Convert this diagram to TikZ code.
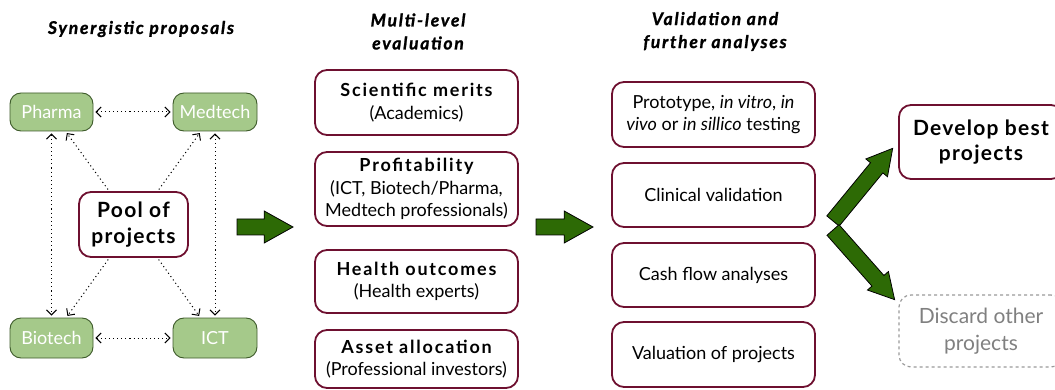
\documentclass[tikz,border=0pt]{standalone}
\usepackage{fontspec}
\setmainfont{Lato}
\newfontfamily\headfont[LetterSpace=10,FakeBold=1.2]{Lato}
\newfontfamily\bfam[LetterSpace=10]{Lato}
\newfontfamily\bigfam[LetterSpace=6]{Lato}
\usetikzlibrary{arrows.meta,calc}
\definecolor{maroon}{HTML}{6E1030}
\definecolor{lgreen}{HTML}{A5C98A}
\definecolor{dgreen}{HTML}{3D5A2A}
\definecolor{agreen}{HTML}{2D6A05}
\definecolor{dgray}{HTML}{999999}
\newcommand\bt[1]{{\bfam\bfseries #1}}
\tikzset{
  sect/.style={draw=dgreen,line width=0.9pt,fill=lgreen,rounded corners=11pt,text=white,font=\fontsize{18}{20}\selectfont,inner sep=0pt},
  mbox/.style={draw=maroon,line width=1.8pt,rounded corners=12pt,fill=white,align=center,inner sep=0pt,font=\fontsize{18}{22.5}\selectfont},
  bigbox/.style={mbox,font=\bigfam\fontsize{21}{25.5}\selectfont\bfseries},
  dbox/.style={draw=dgray,dashed,line width=1.2pt,rounded corners=12pt,align=center,inner sep=0pt,text=gray,font=\fontsize{21}{27}\selectfont},
  head/.style={align=center,font=\headfont\fontsize{17.5}{23}\selectfont\bfseries\itshape},
  dots/.style={dash pattern=on 1.1pt off 3pt,line width=1pt,-{Straight Barb[length=5pt,width=10pt]},shorten >=2pt,shorten <=2pt},
  ddots/.style={dots,{Straight Barb[length=5pt,width=10pt]}-{Straight Barb[length=5pt,width=10pt]}},
}
\newcommand\garrow[5]{% x y angle length headhalf
  \begin{scope}[shift={(#1,#2)},rotate=#3]
    \fill[agreen,draw=black,line width=0.8pt]
      (0,-8) -- ({#4-#5*1.8},-8) -- ({#4-#5*1.8},-#5) -- (#4,0) -- ({#4-#5*1.8},#5) -- ({#4-#5*1.8},8) -- (0,8) -- cycle;
  \end{scope}}
\begin{document}
\begin{tikzpicture}[x=1pt,y=-1pt]
\useasboundingbox (0,0) rectangle (1055,390);
% headings
\node[head] (h1) at (141,29) {Synergistic proposals};
\node[head] (h2) at (418,31.5) {Multi-level\\evaluation};
\node[head] (h3) at (715,31.5) {Validation and\\further analyses};
% column 1
\node[sect,minimum width=83pt,minimum height=38pt] (pharma) at (51.5,112) {Pharma};
\node[sect,minimum width=84pt,minimum height=38pt] (medtech) at (215,112) {Medtech};
\node[sect,minimum width=83pt,minimum height=40pt] (biotech) at (51.5,338) {Biotech};
\node[sect,minimum width=84pt,minimum height=40pt] (ict) at (215,338) {ICT};
\node[bigbox,minimum width=109pt,minimum height=65pt] (pool) at (133.5,224.5) {Pool of\\projects};
\draw[ddots] (pharma.east) -- (medtech.west);
\draw[ddots] (biotech.east) -- (ict.west);
\draw[ddots] (pharma.south) -- (biotech.north);
\draw[ddots] (medtech.south) -- (ict.north);
\draw[dots] (pool) -- (pharma);
\draw[dots] (pool) -- (medtech);
\draw[dots] (pool) -- (biotech);
\draw[dots] (pool) -- (ict);
% column 2
\node[mbox,minimum width=203pt,minimum height=65pt] (sci) at (416.5,102.5) {\bt{Scientific merits}\\(Academics)};
\node[mbox,minimum width=203pt,minimum height=74pt] (prof) at (416.5,189) {\bt{Profitability}\\(ICT, Biotech/Pharma,\\Medtech professionals)};
\node[mbox,minimum width=203pt,minimum height=63pt] (health) at (416.5,281.5) {\bt{Health outcomes}\\(Health experts)};
\node[mbox,minimum width=203pt,minimum height=58pt] (asset) at (416.5,359) {\bt{Asset allocation}\\(Professional investors)};
% column 3
\node[mbox,minimum width=203pt,minimum height=65pt] (proto) at (713.5,114.5) {Prototype, \textit{in vitro}, \textit{in}\\\textit{vivo} or \textit{in sillico} testing};
\node[mbox,minimum width=203pt,minimum height=64pt] (clin) at (713.5,195) {Clinical validation};
\node[mbox,minimum width=203pt,minimum height=64pt] (cash) at (713.5,275) {Cash flow analyses};
\node[mbox,minimum width=203pt,minimum height=65pt] (val) at (713.5,354.5) {Valuation of projects};
% column 4
\node[bigbox,minimum width=164pt,minimum height=74pt] (dev) at (981,142) {Develop best\\projects};
\node[dbox,minimum width=164pt,minimum height=72pt] (disc) at (981,331) {Discard other\\projects};
% green arrows
\garrow{237}{227}{0}{56}{16}
\garrow{536}{227}{0}{57}{16}
\garrow{833}{221}{50.6}{94}{14}
\garrow{833}{230}{-48.5}{93}{14}
\end{tikzpicture}
\end{document}
